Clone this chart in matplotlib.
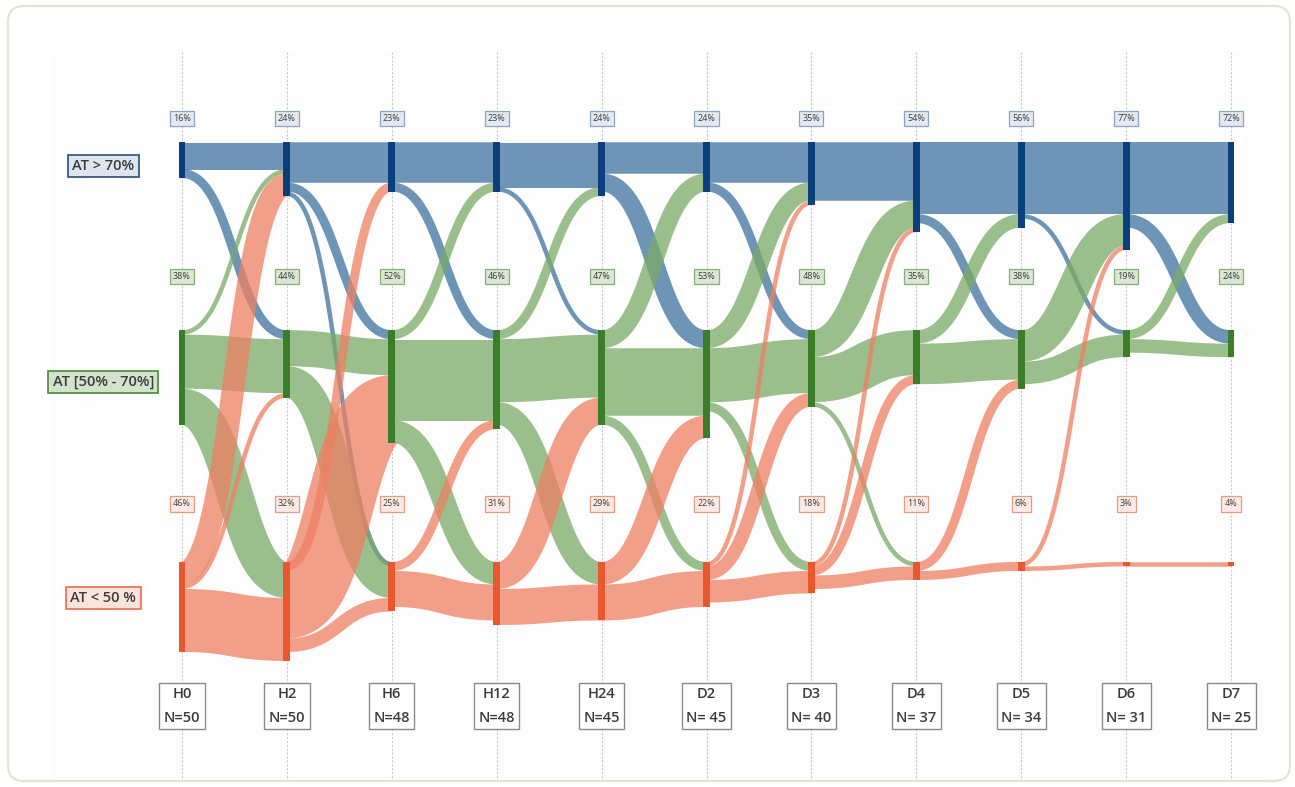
"""Alluvial chart of AT category transitions over time (H0 .. D7)."""

import matplotlib
matplotlib.use("Agg")
import matplotlib.pyplot as plt
import numpy as np
from matplotlib.patches import FancyBboxPatch, Rectangle

plt.rcParams["font.family"] = ["Open Sans", "DejaVu Sans"]

times = ["H0", "H2", "H6", "H12", "H24", "D2", "D3", "D4", "D5", "D6", "D7"]
n_labels = ["N=50", "N=50", "N=48", "N=48", "N=45", "N= 45", "N= 40",
            "N= 37", "N= 34", "N= 31", "N= 25"]
state_labels = ["AT > 70%", "AT [50% - 70%]", "AT < 50 %"]
pct_high = [16, 24, 23, 23, 24, 24, 35, 54, 56, 77, 72]
pct_mid = [38, 44, 52, 46, 47, 53, 48, 35, 38, 19, 24]
pct_low = [46, 32, 25, 31, 29, 22, 18, 11, 6, 3, 4]

# patients moving between consecutive time points
# rows: from (>70, 50-70, <50), cols: to (>70, 50-70, <50)
flows = [
    [[6, 2, 0], [1, 12, 8], [5, 1, 14]],    # H0 -> H2
    [[9, 2, 1], [0, 8, 7], [2, 15, 3]],     # H2 -> H6
    [[9, 2, 0], [2, 18, 5], [0, 2, 8]],     # H6 -> H12
    [[10, 1, 0], [2, 14, 5], [0, 6, 8]],    # H12 -> H24
    [[7, 4, 0], [4, 15, 2], [0, 5, 8]],     # H24 -> D2
    [[9, 2, 0], [4, 12, 2], [1, 3, 5]],     # D2 -> D3
    [[13, 0, 0], [6, 10, 1], [1, 2, 3]],    # D3 -> D4
    [[16, 2, 0], [3, 9, 0], [0, 2, 2]],     # D4 -> D5
    [[16, 1, 0], [7, 5, 0], [1, 0, 1]],     # D5 -> D6
    [[16, 3, 0], [2, 3, 0], [0, 0, 1]],     # D6 -> D7
]

FLOW_C = ["#40739f", "#7aaa66", "#ee8063"]
NODE_C = ["#0b3f7c", "#3b7d28", "#e8582e"]
LAB_FC = ["#dde5ef", "#d3e2cd", "#fce4dd"]
LAB_EC = ["#2d4d75", "#4b8a39", "#e86d4d"]
PCT_FC = ["#e3e9f1", "#d9e7d4", "#fdeae4"]
PCT_EC = ["#8ea2c1", "#88ae7b", "#e49b87"]
TXT_C = "#3c3c3c"

# layout (in patient units / time index)
PX_PER_UNIT = 4.5
TOPS = [0.0, 41.8, 93.3]        # top of each category's node column
PCT_Y = [-5.3, 29.8, 80.4]
LAB_Y = [5.3, 53.3, 101.3]
LAB_X = -0.75
BOT_Y = 125.3
NODE_W = 0.065

F = np.array(flows, dtype=float)
n_t = len(times)
node_h = np.zeros((n_t, 3))
node_h[:-1] = np.maximum(node_h[:-1], F.sum(axis=2))
node_h[1:] = np.maximum(node_h[1:], F.sum(axis=1))

fig = plt.figure(figsize=(12.95, 7.87), dpi=100)

# card background in pixel coords
bg = fig.add_axes([0, 0, 1, 1])
bg.set_xlim(0, 1295)
bg.set_ylim(787, 0)
bg.axis("off")
bg.add_patch(FancyBboxPatch((8, 6), 1282, 775,
                            boxstyle="round,pad=0,rounding_size=16",
                            fc="white", ec="#e6e3d6", lw=1.6))
bg.add_patch(Rectangle((50, 50), 1215, 730, fc="#fdfdfd", ec="none"))

ax = fig.add_axes([0, 0, 1, 1])
ax.patch.set_alpha(0)
ax.set_xlim(-1.735, 10.61)
ax.set_ylim(143.3, -31.56)
ax.axis("off")

ax.vlines(np.arange(n_t), -20, 141.8, color="#c9c9c9", lw=0.8,
          linestyles=(0, (2, 1.5)), zorder=0)

# --- flows: stroked horizontal bezier links (d3-sankey style) ---
u = np.linspace(0, 1, 120)
bx = 1.5 * (1 - u) ** 2 * u + 1.5 * (1 - u) * u ** 2 + u ** 3
by = 3 * (1 - u) * u ** 2 + u ** 3
pt_per_unit = PX_PER_UNIT * 72 / fig.dpi
for k, m in enumerate(F):
    src_start = np.cumsum(m, axis=1) - m
    dst_start = np.cumsum(m, axis=0) - m
    for a in range(3):
        for b in range(3):
            v = m[a, b]
            if v == 0:
                continue
            y0 = TOPS[a] + src_start[a, b] + v / 2
            y1 = TOPS[b] + dst_start[a, b] + v / 2
            ax.plot(k + bx, y0 + (y1 - y0) * by, color=FLOW_C[a],
                    alpha=0.75, lw=v * pt_per_unit, solid_capstyle="butt",
                    zorder=2)

# --- nodes ---
for c in range(3):
    ax.bar(np.arange(n_t), node_h[:, c], bottom=TOPS[c], width=NODE_W,
           color=NODE_C[c], zorder=4)

# --- percentage tags ---
for c, pcts in enumerate([pct_high, pct_mid, pct_low]):
    for i, p in enumerate(pcts):
        ax.text(i, PCT_Y[c], f"{p}%", ha="center", va="center", fontsize=6.5,
                color=TXT_C, zorder=5,
                bbox=dict(boxstyle="square,pad=0.35", fc=PCT_FC[c],
                          ec=PCT_EC[c], lw=0.9))

# --- category labels ---
for c, lab in enumerate(state_labels):
    ax.text(LAB_X, LAB_Y[c], lab, ha="center", va="center", fontsize=10.5,
            fontweight="semibold", color=TXT_C, zorder=5,
            bbox=dict(boxstyle="square,pad=0.3", fc=LAB_FC[c],
                      ec=LAB_EC[c], lw=1.2))

# --- time point boxes ---
for i, (tm, nl) in enumerate(zip(times, n_labels)):
    ax.text(i, BOT_Y, f"{tm}\n{nl}", ha="center", va="center", fontsize=10.5,
            fontweight="semibold", linespacing=1.85, color=TXT_C, zorder=5,
            bbox=dict(boxstyle="square,pad=0.3", fc="white",
                      ec="#8a8a8a", lw=1.0))

fig.savefig("out.png", dpi=100)
